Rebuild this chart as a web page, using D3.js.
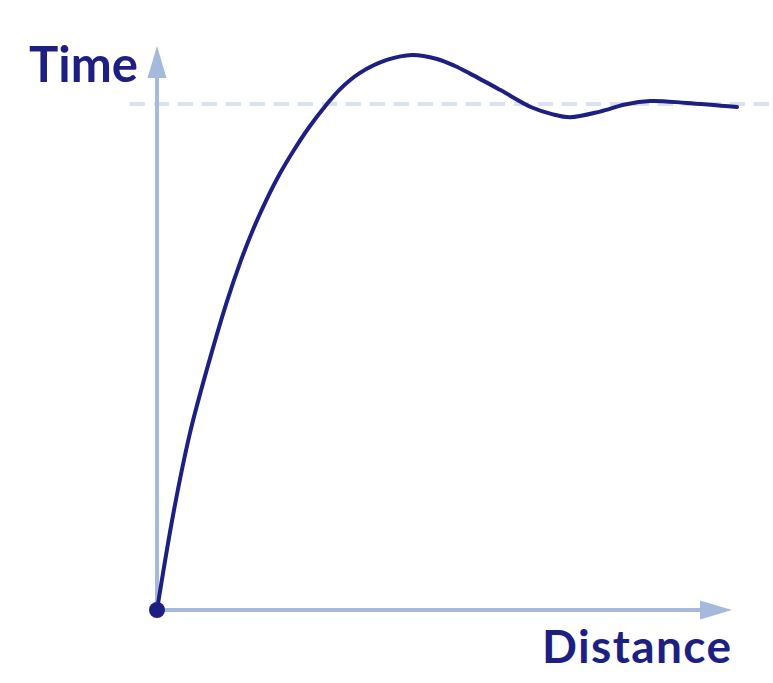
<!DOCTYPE html>
<html><head><meta charset="utf-8">
<script src="https://cdn.jsdelivr.net/npm/d3@7"></script>
<style>body{margin:0;background:#fff}svg{display:block}</style>
</head><body>
<svg id="c" width="773" height="683"></svg>
<script>
// Data: distance (x) vs time (y), asymptote at 1
const distance = [0, 0.284, 0.569, 0.871, 1.198, 1.438, 1.66, 1.893, 2.117, 2.362, 2.616, 2.903, 3.162, 3.493, 3.964, 4.397, 4.828, 5.138, 5.397, 5.914, 6.466, 6.81, 7.121, 7.638, 8.069, 8.5, 9.138, 10];
const time     = [0, 0.192, 0.35, 0.48, 0.607, 0.688, 0.753, 0.812, 0.862, 0.909, 0.953, 0.996, 1.03, 1.061, 1.087, 1.097, 1.089, 1.075, 1.06, 1.028, 0.993, 0.98, 0.974, 0.985, 0.999, 1.006, 1.002, 0.994];
const asymptote = 1;
const axisLabels = {x: "Distance", y: "Time"};

const navy = "#1e1f82", axisCol = "#a4b9dc", dashCol = "#dbe2ef";
const svg = d3.select("#c");
const x = d3.scaleLinear().domain([0, 10]).range([157, 737]);
const y = d3.scaleLinear().domain([0, 1]).range([610, 104]);

// dashed asymptote
svg.append("line")
  .attr("x1", 130).attr("x2", 773)
  .attr("y1", y(asymptote)).attr("y2", y(asymptote))
  .attr("stroke", dashCol).attr("stroke-width", 4)
  .attr("stroke-dasharray", "15 9");

// axes
const x0 = x(0), y0 = y(0);
const xTip = 732, yTip = 46, headLen = 32, headHalf = 9.5;
svg.append("line").attr("x1", x0).attr("y1", y0).attr("x2", xTip - headLen + 2).attr("y2", y0)
  .attr("stroke", axisCol).attr("stroke-width", 4);
svg.append("line").attr("x1", x0).attr("y1", y0).attr("x2", x0).attr("y2", yTip + headLen - 2)
  .attr("stroke", axisCol).attr("stroke-width", 4);
svg.append("path")
  .attr("d", `M${xTip},${y0} L${xTip - headLen},${y0 - headHalf} L${xTip - headLen},${y0 + headHalf} Z`)
  .attr("fill", axisCol);
svg.append("path")
  .attr("d", `M${x0},${yTip} L${x0 - headHalf},${yTip + headLen} L${x0 + headHalf},${yTip + headLen} Z`)
  .attr("fill", axisCol);

// curve
const pts = distance.map((d, i) => [d, time[i]]);
const line = d3.line().x(d => x(d[0])).y(d => y(d[1])).curve(d3.curveCatmullRom.alpha(0.5));
svg.append("path").attr("d", line(pts))
  .attr("fill", "none").attr("stroke", navy).attr("stroke-width", 4)
  .attr("stroke-linecap", "round");

svg.append("circle").attr("cx", x0).attr("cy", y0).attr("r", 8).attr("fill", navy);

// labels
svg.append("text").text(axisLabels.y)
  .attr("x", 29).attr("y", 82)
  .attr("font-family", "Lato").attr("font-weight", 700).attr("font-size", 49)
  .attr("fill", navy);
svg.append("text").text(axisLabels.x)
  .attr("x", 542).attr("y", 663)
  .attr("font-family", "Lato").attr("font-weight", 700).attr("font-size", 46)
  .attr("letter-spacing", 1.4)
  .attr("fill", navy);
</script>
</body></html>
